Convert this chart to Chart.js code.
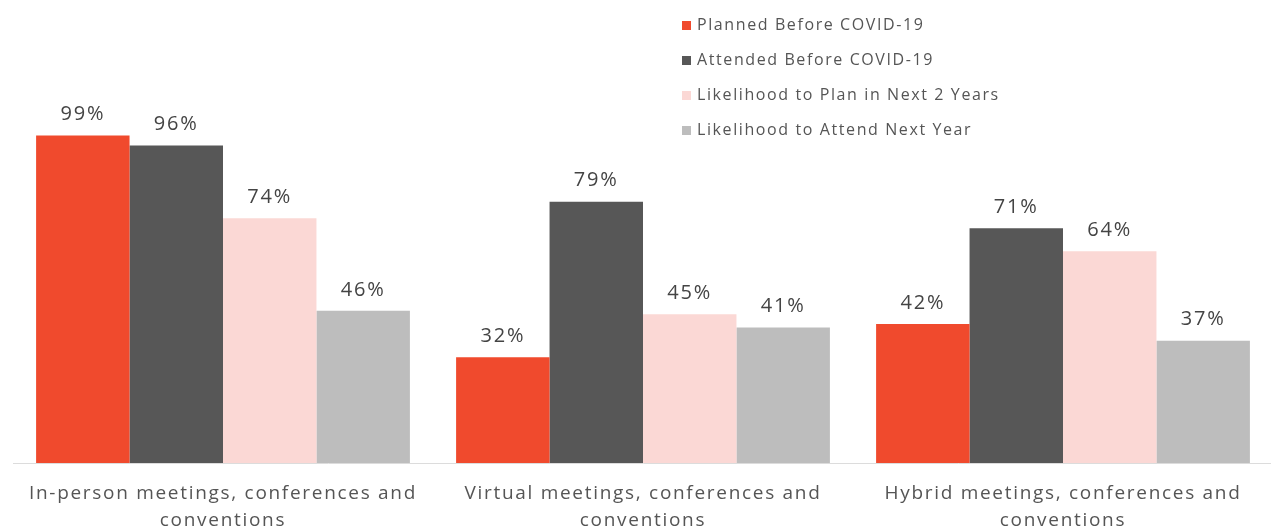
<!DOCTYPE html>
<html>
<head>
<meta charset="utf-8">
<script src="https://cdn.jsdelivr.net/npm/chart.js@4"></script>
<style>
  body { margin: 0; background: #fff; }
  #wrap { position: relative; width: 1271px; height: 529px; overflow: hidden; }
  #legenda { position: absolute; left: 682px; top: 12px; font-family: 'Open Sans', sans-serif; font-size: 16px; letter-spacing: 1.6px; color: #555; }
  #legenda div { height: 35px; line-height: 24px; white-space: nowrap; }
  #legenda span { display: inline-block; width: 9px; height: 9px; margin-right: 6px; vertical-align: 0px; }
</style>
</head>
<body>
<div id="wrap">
  <canvas id="grafico" width="1273" height="551"></canvas>
  <div id="legenda"></div>
</div>
<script>
const categorie = [
  ['In-person meetings, conferences and', 'conventions'],
  ['Virtual meetings, conferences and', 'conventions'],
  ['Hybrid meetings, conferences and', 'conventions']
];
const serie = ['Planned Before COVID-19', 'Attended Before COVID-19', 'Likelihood to Plan in Next 2 Years', 'Likelihood to Attend Next Year'];
const pianificati = [99, 32, 42];
const partecipati = [96, 79, 71];
const pianoFuturo = [74, 45, 64];
const presenzaFutura = [46, 41, 37];
const colori = ['#f04a2d', '#575757', '#fbd8d5', '#bdbdbd'];

// legenda in HTML, sopra il grafico
const leg = document.getElementById('legenda');
serie.forEach((s, i) => {
  const d = document.createElement('div');
  d.innerHTML = '<span style="background:' + colori[i] + '"></span>' + s;
  leg.appendChild(d);
});

// spaziatura lettere per le etichette dell'asse
const spaziatura = {
  id: 'spaziatura',
  beforeUpdate(chart) { chart.ctx.letterSpacing = '1.7px'; },
  beforeLayout(chart) { chart.ctx.letterSpacing = '1.7px'; },
  beforeDraw(chart) { chart.ctx.letterSpacing = '1.7px'; }
};

// etichette sopra le barre
const etichette = {
  id: 'etichette',
  afterDatasetsDraw(chart) {
    const c = chart.ctx;
    c.save();
    c.font = '20px "Open Sans"';
    c.letterSpacing = '1.8px';
    c.fillStyle = '#444';
    c.textAlign = 'center';
    c.textBaseline = 'middle';
    chart.data.datasets.forEach((ds, i) => {
      chart.getDatasetMeta(i).data.forEach((bar, j) => {
        c.fillText(ds.data[j] + '%', bar.x, bar.y - 21);
      });
    });
    c.restore();
  }
};

const valori = [pianificati, partecipati, pianoFuturo, presenzaFutura];

new Chart(document.getElementById('grafico'), {
  type: 'bar',
  data: {
    labels: categorie,
    datasets: serie.map((s, i) => ({
      label: s,
      data: valori[i],
      backgroundColor: colori[i],
      barPercentage: 1,
      categoryPercentage: 0.89
    }))
  },
  options: {
    responsive: false,
    animation: false,
    layout: { padding: { left: 13, right: 0, top: 0, bottom: 0 } },
    plugins: {
      legend: { display: false },
      tooltip: { enabled: false }
    },
    scales: {
      y: { display: false, min: 0, max: 140 },
      x: {
        grid: { display: false, drawTicks: false },
        border: { display: true, color: '#dcdcdc', width: 1 },
        ticks: {
          padding: 17,
          color: '#555',
          font: { family: 'Open Sans', size: 19, lineHeight: '27px' }
        }
      }
    }
  },
  plugins: [spaziatura, etichette]
});
</script>
</body>
</html>
